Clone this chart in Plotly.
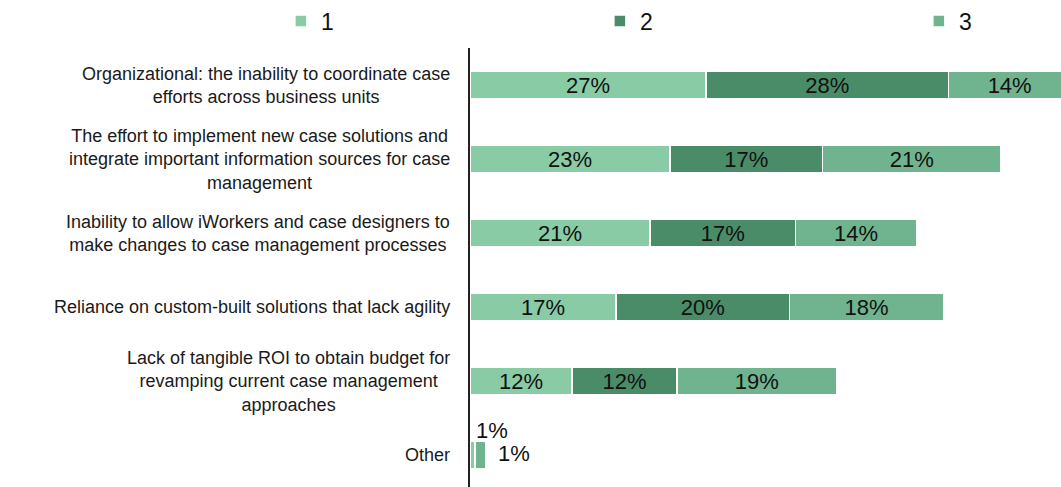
import plotly.graph_objects as go

categories = [
    "Organizational: the inability to coordinate case<br>efforts across business units",
    "The effort to implement new case solutions and<br>integrate important information sources for case<br>management",
    "Inability to allow iWorkers and case designers to<br>make changes to case management processes",
    "Reliance on custom-built solutions that lack agility",
    "Lack of tangible ROI to obtain budget for<br>revamping current case management<br>approaches",
    "Other",
]
series_names = ["1", "2", "3"]
values_1 = [27.1, 23.0, 20.7, 16.8, 11.7, 0.6]
values_2 = [27.9, 17.5, 16.7, 19.9, 12.1, 0.0]
values_3 = [14.0, 20.5, 13.9, 17.7, 18.3, 1.2]
labels_1 = ["27%", "23%", "21%", "17%", "12%", "1%"]
labels_2 = ["28%", "17%", "17%", "20%", "12%", ""]
labels_3 = ["14%", "21%", "14%", "18%", "19%", "1%"]

COLORS = ["#88CBA5", "#4A8C68", "#6FB48E"]
LEGEND_WIDTHS = [274, 274, 30]
FONT = "Arial, Liberation Sans, sans-serif"
LABEL_FONT = dict(size=22, color="#111111", family=FONT)

fig = go.Figure()
for name, vals, labels, color, lw in zip(
    series_names, [values_1, values_2, values_3], [labels_1, labels_2, labels_3], COLORS, LEGEND_WIDTHS
):
    # the tiny "Other" segments get their labels as annotations below
    inside = [lab if cat != "Other" else "" for cat, lab in zip(categories, labels)]
    fig.add_trace(
        go.Bar(
            name=name,
            y=categories,
            x=vals,
            orientation="h",
            text=inside,
            textposition="inside",
            insidetextanchor="middle",
            textangle=0,
            textfont=LABEL_FONT,
            marker=dict(color=color, line=dict(color="white", width=1.5)),
            legendwidth=lw,
        )
    )

# labels for the "Other" row
other = categories[-1]
fig.add_annotation(
    x=0, y=other, xref="x", yref="y", text=labels_1[-1], showarrow=False,
    xanchor="left", xshift=4, yshift=25, font=LABEL_FONT,
)
fig.add_annotation(
    x=values_1[-1] + values_2[-1] + values_3[-1], y=other, xref="x", yref="y",
    text=labels_3[-1], showarrow=False, xanchor="left", xshift=10, yshift=2,
    font=LABEL_FONT,
)

# category labels, centred lines like the original
for cat in categories:
    fig.add_annotation(
        x=0, y=cat, xref="paper", yref="y", text=cat, showarrow=False,
        xanchor="right", xshift=-18, align="center",
        font=dict(size=18, color="#1a1a1a", family=FONT),
    )

fig.update_layout(
    width=1061,
    height=487,
    barmode="stack",
    bargap=0.62,
    plot_bgcolor="white",
    paper_bgcolor="white",
    margin=dict(l=470, r=0, t=48, b=0, autoexpand=False),
    font=dict(family=FONT, size=18, color="#1a1a1a"),
    uniformtext=dict(minsize=22, mode="show"),
    legend=dict(
        orientation="h",
        x=-0.32,
        y=1.0615,
        xanchor="left",
        yanchor="middle",
        itemwidth=30,
        font=dict(size=23, family=FONT, color="#111111"),
        traceorder="normal",
    ),
    xaxis=dict(range=[0, 67.9], visible=False),
    yaxis=dict(
        range=[5.43, -0.5],
        showticklabels=False,
        showline=True,
        linecolor="#222222",
        linewidth=1.5,
        ticks="",
        showgrid=False,
    ),
)

# drop the default page margin so the figure sits at the window corner
fig.write_html(
    "out.html",
    config={"displayModeBar": False},
    post_script="document.body.style.margin = '0';",
)
